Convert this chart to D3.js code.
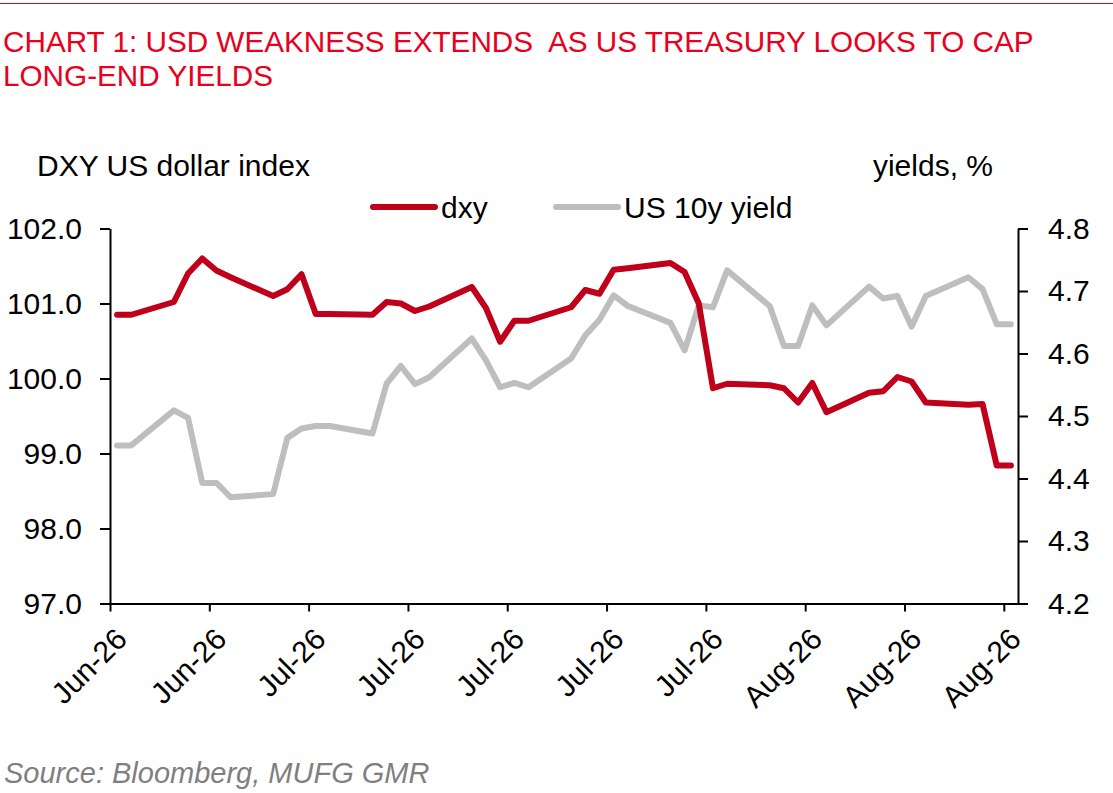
<!DOCTYPE html>
<html>
<head>
<meta charset="utf-8">
<script src="https://cdn.jsdelivr.net/npm/d3@7"></script>
<style>
  body { margin: 0; background: #fff; }
  svg { display: block; font-family: "Liberation Sans", Arial, sans-serif; }
</style>
</head>
<body>
<svg id="viz"></svg>
<script>
// trading days shown on the chart
const dates = [
  "2025-06-19", "2025-06-20", "2025-06-23", "2025-06-24", "2025-06-25", "2025-06-26", "2025-06-27",
  "2025-06-30", "2025-07-01", "2025-07-02", "2025-07-03", "2025-07-04",
  "2025-07-07", "2025-07-08", "2025-07-09", "2025-07-10", "2025-07-11",
  "2025-07-14", "2025-07-15", "2025-07-16", "2025-07-17", "2025-07-18",
  "2025-07-21", "2025-07-22", "2025-07-23", "2025-07-24", "2025-07-25",
  "2025-07-28", "2025-07-29", "2025-07-30", "2025-07-31", "2025-08-01",
  "2025-08-04", "2025-08-05", "2025-08-06", "2025-08-07", "2025-08-08",
  "2025-08-11", "2025-08-12", "2025-08-13", "2025-08-14", "2025-08-15",
  "2025-08-18", "2025-08-19", "2025-08-20", "2025-08-21"
];

// DXY index (left axis)
const dxy = [
  100.85, 100.85, 101.02, 101.40, 101.60, 101.44, 101.35,
  101.10, 101.19, 101.39, 100.86, 100.86,
  100.85, 101.02, 101.00, 100.90, 100.96,
  101.22, 100.94, 100.49, 100.77, 100.77,
  100.95, 101.18, 101.13, 101.45, 101.47,
  101.54, 101.42, 101.00, 99.87, 99.93,
  99.91, 99.87, 99.68, 99.94, 99.55,
  99.81, 99.83, 100.02, 99.96, 99.68,
  99.65, 99.66, 98.84, 98.84
];

// US 10y yield, % (right axis)
const yield10 = [
  4.453, 4.453, 4.509, 4.497, 4.393, 4.393, 4.370,
  4.375, 4.465, 4.480, 4.484, 4.484,
  4.472, 4.552, 4.580, 4.551, 4.562,
  4.624, 4.589, 4.546, 4.553, 4.546,
  4.592, 4.629, 4.654, 4.693, 4.676,
  4.649, 4.605, 4.677, 4.674, 4.733,
  4.676, 4.612, 4.612, 4.677, 4.645,
  4.707, 4.688, 4.692, 4.643, 4.692,
  4.722, 4.703, 4.647, 4.647
];

const tickLabels = ["Jun-26", "Jun-26", "Jul-26", "Jul-26", "Jul-26", "Jul-26", "Jul-26", "Aug-26", "Aug-26", "Aug-26"];
const leftTicks = [97, 98, 99, 100, 101, 102];
const rightTicks = [4.2, 4.3, 4.4, 4.5, 4.6, 4.7, 4.8];

const RED = "#c0001a";
const GREY = "#bebebe";
const TITLE_RED = "#e8001c";

const W = 1113, H = 793;
const svg = d3.select("#viz").attr("width", W).attr("height", H);

const parse = d3.utcParse("%Y-%m-%d");
const rows = dates.map((d, i) => ({ date: parse(d), dxy: dxy[i], yld: yield10[i] }));

const plot = { left: 110, right: 1018, top: 228.5, bottom: 603.5 };
const start = parse(dates[0]);
const end = d3.utcDay.offset(parse(dates[dates.length - 1]), 1);

// excel-style date axis: each day takes one slot, point sits mid-slot
const x = d3.scaleUtc().domain([start, end]).range([plot.left, plot.right]);
const mid = d => d3.utcHour.offset(d, 12);
const yL = d3.scaleLinear().domain([97, 102]).range([plot.bottom, plot.top]);
const yR = d3.scaleLinear().domain([4.2, 4.8]).range([plot.bottom, plot.top]);

// top rule
svg.append("line")
  .attr("x1", 0).attr("x2", W).attr("y1", 3.5).attr("y2", 3.5)
  .attr("stroke", TITLE_RED).attr("stroke-width", 1);

// title
const title = svg.append("text").attr("fill", TITLE_RED).attr("font-size", 29.7);
title.append("tspan").attr("x", 3).attr("y", 52)
  .text("CHART 1: USD WEAKNESS EXTENDS\u00a0 AS US TREASURY LOOKS TO CAP");
title.append("tspan").attr("x", 3).attr("y", 86).text("LONG-END YIELDS");

// axis titles
svg.append("text").attr("x", 37).attr("y", 176).attr("font-size", 30).attr("fill", "#000")
  .text("DXY US dollar index");
svg.append("text").attr("x", 993).attr("y", 176).attr("font-size", 30).attr("fill", "#000")
  .attr("text-anchor", "end").text("yields, %");

// legend
const legend = [
  { name: "dxy", color: RED, x: 373 },
  { name: "US 10y yield", color: GREY, x: 556 }
];
const lg = svg.append("g").selectAll("g").data(legend).enter().append("g");
lg.append("line")
  .attr("x1", d => d.x).attr("x2", d => d.x + 62)
  .attr("y1", 207).attr("y2", 207)
  .attr("stroke", d => d.color).attr("stroke-width", 6).attr("stroke-linecap", "round");
lg.append("text")
  .attr("x", d => d.x + 68).attr("y", 218).attr("font-size", 30)
  .text(d => d.name);

// axes
function styleAxis(g) {
  g.selectAll("path.domain").attr("stroke", "#000").attr("stroke-width", 2);
  g.selectAll(".tick line").attr("stroke", "#000").attr("stroke-width", 2);
  g.selectAll(".tick text").attr("font-size", 30).attr("fill", "#000")
    .attr("font-family", "Liberation Sans, Arial, sans-serif");
}

const gL = svg.append("g").attr("transform", `translate(${plot.left},0)`)
  .call(d3.axisLeft(yL).tickValues(leftTicks).tickFormat(d3.format(".1f"))
    .tickSize(10).tickSizeOuter(0).tickPadding(18));
styleAxis(gL);

const gR = svg.append("g").attr("transform", `translate(${plot.right},0)`)
  .call(d3.axisRight(yR).tickValues(rightTicks).tickFormat(d3.format(".1f"))
    .tickSize(10).tickSizeOuter(0).tickPadding(20));
styleAxis(gR);

// weekly ticks counted from the first day
const xTicks = tickLabels.map((_, i) => d3.utcDay.offset(start, 7 * i));
const gX = svg.append("g").attr("transform", `translate(0,${plot.bottom})`)
  .call(d3.axisBottom(x).tickValues(xTicks).tickFormat((d, i) => tickLabels[i])
    .tickSize(8).tickSizeOuter(0));
styleAxis(gX);
gX.selectAll(".tick text")
  .attr("text-anchor", "end")
  .attr("x", 0).attr("y", 0).attr("dy", "0.35em")
  .attr("transform", "translate(11,30) rotate(-45)");

// series
const lineR = d3.line().x(d => x(mid(d.date))).y(d => yR(d.yld));
const lineL = d3.line().x(d => x(mid(d.date))).y(d => yL(d.dxy));

svg.append("path").datum(rows)
  .attr("d", lineR).attr("fill", "none")
  .attr("stroke", GREY).attr("stroke-width", 6)
  .attr("stroke-linejoin", "round").attr("stroke-linecap", "round");

svg.append("path").datum(rows)
  .attr("d", lineL).attr("fill", "none")
  .attr("stroke", RED).attr("stroke-width", 6)
  .attr("stroke-linejoin", "round").attr("stroke-linecap", "round");

// source
svg.append("text").attr("x", 4).attr("y", 783).attr("font-size", 29)
  .attr("font-style", "italic").attr("fill", "#7f7f7f")
  .text("Source: Bloomberg, MUFG GMR");
</script>
</body>
</html>
